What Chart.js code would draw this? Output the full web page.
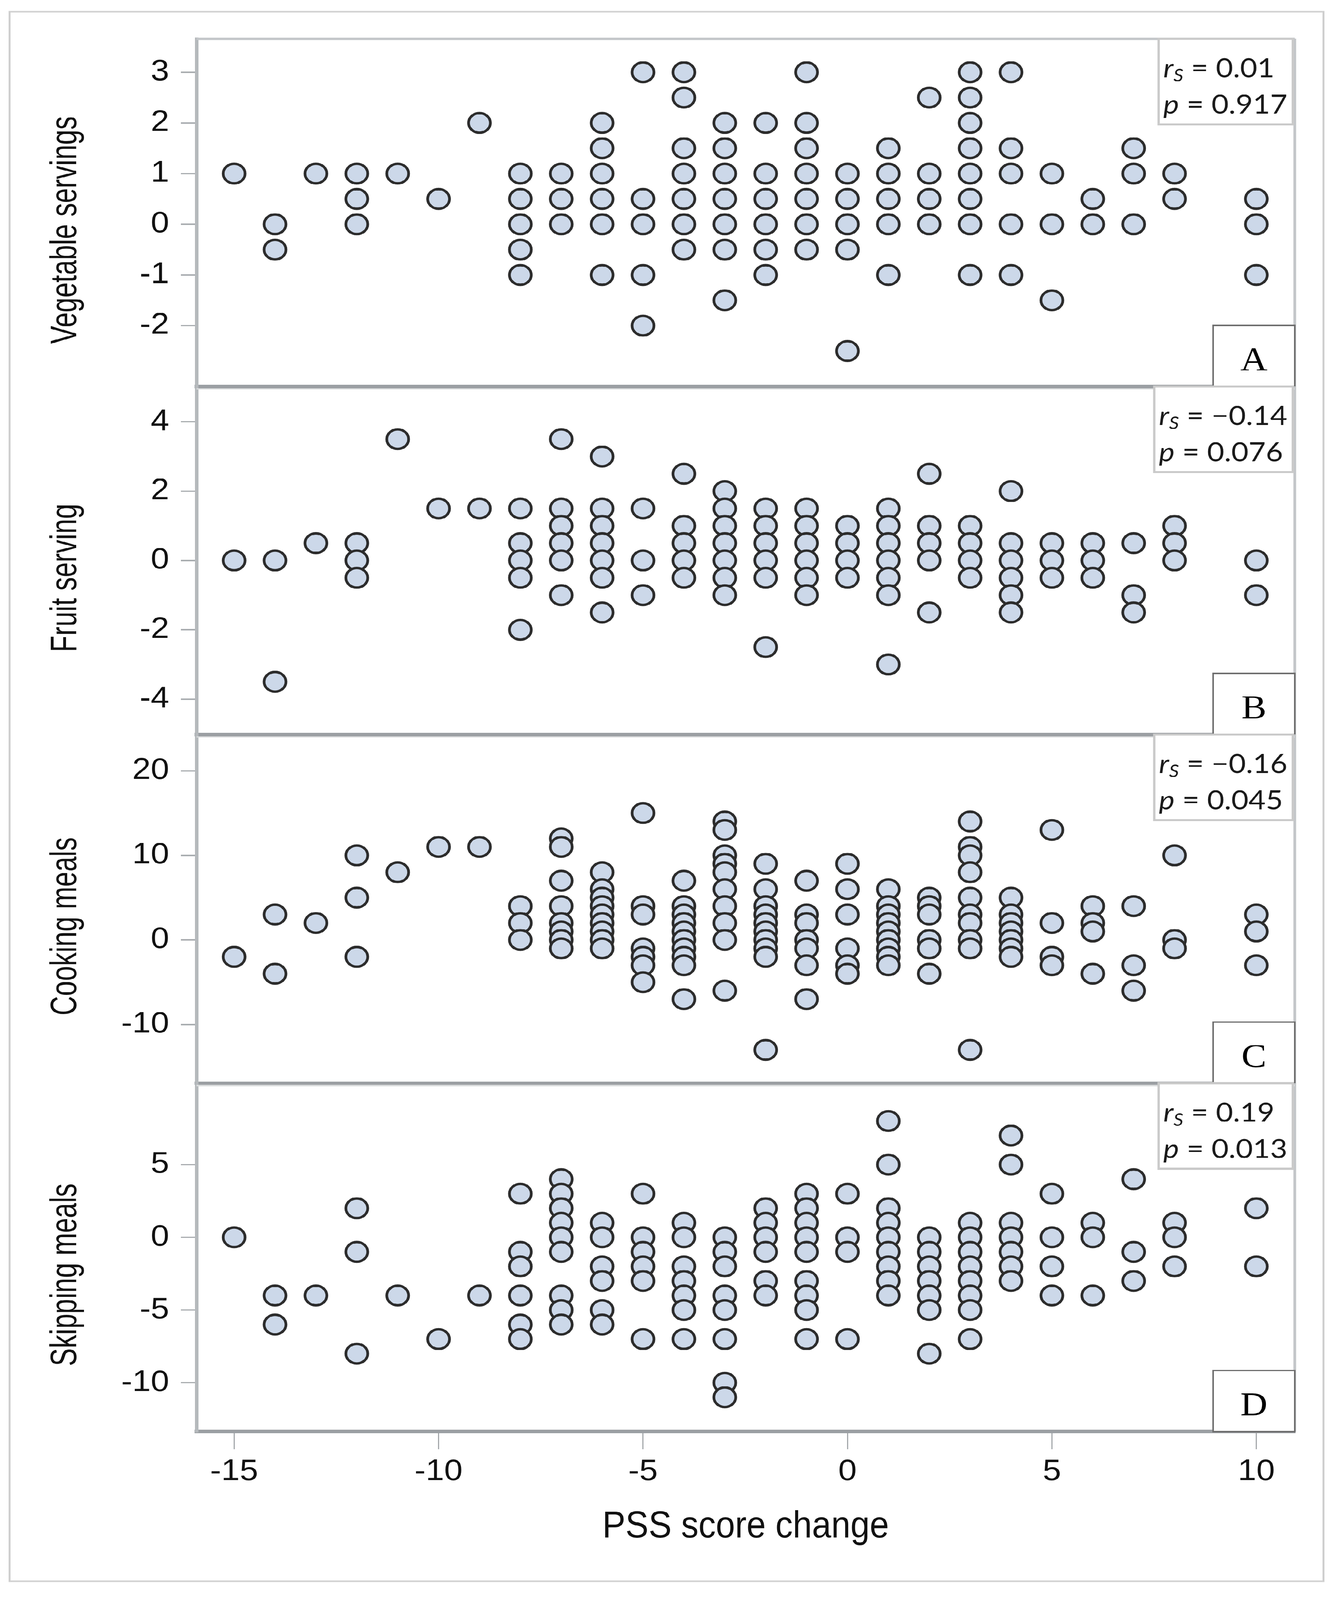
<!DOCTYPE html>
<html>
<head>
<meta charset="utf-8">
<script src="https://cdn.jsdelivr.net/npm/chart.js@4.4.1/dist/chart.umd.min.js"></script>
<style>
  html, body { margin: 0; padding: 0; background: #ffffff; overflow: hidden; }
  #stage { position: absolute; left: 0; top: 0; width: 3440px; height: 4579px; transform-origin: 0 0; background: #ffffff; }
  #frame { position: absolute; left: 22px; top: 31px; width: 3368px; height: 4497px;
           border: 5px solid #cfcfcf; box-sizing: border-box; }
  .panel { position: absolute; left: 0; width: 3440px; }
  .panel canvas { display: block; }
</style>
</head>
<body>
<div id="stage">
  <div id="frame"></div>
  <div class="panel" id="pA"><canvas id="cA"></canvas></div>
  <div class="panel" id="pB"><canvas id="cB"></canvas></div>
  <div class="panel" id="pC"><canvas id="cC"></canvas></div>
  <div class="panel" id="pD"><canvas id="cD"></canvas></div>
</div>
<script>
// ---------------- DATA ----------------
// PSS score change (x) columns
const pssScores = [-15, -14, -13, -12, -11, -10, -9, -8, -7, -6, -5, -4, -3, -2, -1, 0, 1, 2, 3, 4, 5, 6, 7, 8, 10];

// Panel A: vegetable servings change, one list per PSS score column
const vegetableServings = [
  [1], [0, -0.5], [1], [1, 0.5, 0], [1], [0.5], [2],
  [1, 0.5, 0, -0.5, -1],
  [1, 0.5, 0],
  [2, 1.5, 1, 0.5, 0, -1],
  [3, 0.5, 0, -1, -2],
  [3, 2.5, 1.5, 1, 0.5, 0, -0.5],
  [2, 1.5, 1, 0.5, 0, -0.5, -1.5],
  [2, 1, 0.5, 0, -0.5, -1],
  [3, 2, 1.5, 1, 0.5, 0, -0.5],
  [1, 0.5, 0, -0.5, -2.5],
  [1.5, 1, 0.5, 0, -1],
  [2.5, 1, 0.5, 0],
  [3, 2.5, 2, 1.5, 1, 0.5, 0, -1],
  [3, 1.5, 1, 0, -1],
  [1, 0, -1.5],
  [0.5, 0],
  [1.5, 1, 0],
  [1, 0.5],
  [0.5, 0, -1]
];

// Panel B: fruit serving change
const fruitServings = [
  [0], [0, -3.5], [0.5], [0.5, 0, -0.5], [3.5], [1.5], [1.5],
  [1.5, 0.5, 0, -0.5, -2],
  [3.5, 1.5, 1, 0.5, 0, -1],
  [3, 1.5, 1, 0.5, 0, -0.5, -1.5],
  [1.5, 0, -1],
  [2.5, 1, 0.5, 0, -0.5],
  [2, 1.5, 1, 0.5, 0, -0.5, -1],
  [1.5, 1, 0.5, 0, -0.5, -2.5],
  [1.5, 1, 0.5, 0, -0.5, -1],
  [1, 0.5, 0, -0.5],
  [1.5, 1, 0.5, 0, -0.5, -1, -3],
  [2.5, 1, 0.5, 0, -1.5],
  [1, 0.5, 0, -0.5],
  [2, 0.5, 0, -0.5, -1, -1.5],
  [0.5, 0, -0.5],
  [0.5, 0, -0.5],
  [0.5, -1, -1.5],
  [1, 0.5, 0],
  [0, -1]
];

// Panel C: cooking meals change
const cookingMeals = [
  [-2], [3, -4], [2], [10, 5, -2], [8], [11], [11],
  [4, 2, 0],
  [12, 11, 7, 4, 2, 1, 0, -1],
  [8, 6, 5, 4, 3, 2, 1, 0, -1],
  [15, 4, 3, -1, -2, -3, -5],
  [7, 4, 3, 2, 1, 0, -1, -2, -3, -7],
  [14, 13, 10, 9, 8, 6, 4, 2, 0, -6],
  [9, 6, 4, 3, 2, 1, 0, -1, -2, -13],
  [7, 3, 2, 0, -1, -3, -7],
  [9, 6, 3, -1, -3, -4],
  [6, 4, 3, 2, 1, 0, -1, -2, -3],
  [5, 4, 3, 0, -1, -4],
  [14, 11, 10, 8, 5, 3, 2, 0, -1, -13],
  [5, 3, 2, 1, 0, -1, -2],
  [13, 2, -2, -3],
  [4, 2, 1, -4],
  [4, -3, -6],
  [10, 0, -1],
  [3, 1, -3]
];

// Panel D: skipping meals change
const skippingMeals = [
  [0], [-4, -6], [-4], [2, -1, -8], [-4], [-7], [-4],
  [3, -1, -2, -4, -6, -7],
  [4, 3, 2, 1, 0, -1, -4, -5, -6],
  [1, 0, -2, -3, -5, -6],
  [3, 0, -1, -2, -3, -7],
  [1, 0, -2, -3, -4, -5, -7],
  [0, -1, -2, -4, -5, -7, -10, -11],
  [2, 1, 0, -1, -3, -4],
  [3, 2, 1, 0, -1, -3, -4, -5, -7],
  [3, 0, -1, -7],
  [8, 5, 2, 1, 0, -1, -2, -3, -4],
  [0, -1, -2, -3, -4, -5, -8],
  [1, 0, -1, -2, -3, -4, -5, -7],
  [7, 5, 1, 0, -1, -2, -3],
  [3, 0, -2, -4],
  [1, 0, -4],
  [4, -1, -3],
  [1, 0, -2],
  [2, -2]
];

const panelTitles = ['Vegetable servings', 'Fruit serving', 'Cooking meals', 'Skipping meals'];
const xAxisTitle = 'PSS score change';
const panelLetters = ['A', 'B', 'C', 'D'];
const spearmanR = ['0.01', '\u22120.14', '\u22120.16', '0.19'];
const pValues = ['0.917', '0.076', '0.045', '0.013'];

const xTicks = [-15, -10, -5, 0, 5, 10];
const xRange = [-15.92, 10.94];
const yTicksA = [-2, -1, 0, 1, 2, 3];
const yTicksB = [-4, -2, 0, 2, 4];
const yTicksC = [-10, 0, 10, 20];
const yTicksD = [-10, -5, 0, 5];
const yRangeA = [-3.2, 3.66];
const yRangeB = [-5.02, 5.02];
const yRangeC = [-16.94, 24.29];
const yRangeD = [-13.36, 10.6];

// ---------------- LAYOUT ----------------
const PAGE_W = 3440, PAGE_H = 4579;
const PLOT_LEFT = 503, PLOT_RIGHT = 3314;
const panelTop = [111, 1106, 2102, 3100];
const panelBottom = [1106, 2102, 3100, 4097];
const MARGIN = 60;

// fit the 3440x4579 design into the actual viewport
(function fitStage() {
  const sx = Math.min(1, (window.innerWidth || PAGE_W) / PAGE_W);
  const sy = Math.min(1, (window.innerHeight || PAGE_H) / PAGE_H);
  document.getElementById('stage').style.transform = 'scale(' + sx + ',' + sy + ')';
})();

const TICK_FONT = "'Liberation Sans', Arial, sans-serif";
const STAT_FONT = "Lato, 'Open Sans', sans-serif";
const LETTER_FONT = "'Liberation Serif', 'Times New Roman', serif";
const NARROW = 0.82;

function drawNarrowText(ctx, text, x, y, size, rotate) {
  ctx.save();
  ctx.translate(x, y);
  if (rotate) ctx.rotate(-Math.PI / 2);
  ctx.scale(NARROW, 1);
  ctx.font = size + 'px ' + TICK_FONT;
  ctx.fillStyle = '#111111';
  ctx.textAlign = 'center';
  ctx.textBaseline = 'alphabetic';
  ctx.fillText(text, 0, 0);
  ctx.restore();
}

const decoPlugin = {
  id: 'panelDeco',
  afterDraw(chart, args, opts) {
    const ctx = chart.ctx;
    const a = chart.chartArea;
    const i = opts.index;
    ctx.save();

    // frame: top (first panel) and right side
    ctx.strokeStyle = '#c3c6c9';
    ctx.lineWidth = 7;
    ctx.beginPath();
    if (i === 0) { ctx.moveTo(a.left, a.top); ctx.lineTo(a.right, a.top); }
    ctx.moveTo(a.right, a.top);
    ctx.lineTo(a.right, a.bottom);
    ctx.stroke();
    if (i > 0) {
      ctx.strokeStyle = '#dadcdd';
      ctx.lineWidth = 4;
      ctx.beginPath();
      ctx.moveTo(a.left, a.top + 7);
      ctx.lineTo(a.right, a.top + 7);
      ctx.stroke();
    }

    // statistics inset (top right)
    const mainSize = 76, subSize = 50;
    const fItal = 'italic ' + mainSize + 'px ' + STAT_FONT;
    const fSub = 'italic ' + subSize + 'px ' + STAT_FONT;
    const fNorm = mainSize + 'px ' + STAT_FONT;
    const line1b = ' = ' + spearmanR[i];
    const line2b = ' = ' + pValues[i];
    ctx.font = fItal; const wr = ctx.measureText('r').width; const wp = ctx.measureText('p').width;
    ctx.font = fSub; const ws = ctx.measureText('S').width;
    ctx.font = fNorm; const w1 = ctx.measureText(line1b).width; const w2 = ctx.measureText(line2b).width;
    const textW = Math.max(wr + ws + w1, wp + w2);
    const boxR = a.right - 5, boxT = a.top, boxH = 245;
    const boxL = boxR - textW - 26;
    ctx.fillStyle = '#ffffff';
    ctx.fillRect(boxL, boxT, boxR - boxL, boxH);
    ctx.strokeStyle = '#cacaca';
    ctx.lineWidth = 6;
    ctx.strokeRect(boxL, boxT, boxR - boxL, boxH);
    ctx.fillStyle = '#1a1a1a';
    ctx.textAlign = 'left';
    ctx.textBaseline = 'alphabetic';
    let tx = boxL + 12;
    const b1 = boxT + 110, b2 = boxT + 214;
    ctx.font = fItal; ctx.fillText('r', tx, b1); tx += wr;
    ctx.font = fSub; ctx.fillText('S', tx, b1 + 12); tx += ws;
    ctx.font = fNorm; ctx.fillText(line1b, tx, b1);
    tx = boxL + 12;
    ctx.font = fItal; ctx.fillText('p', tx, b2); tx += wp;
    ctx.font = fNorm; ctx.fillText(line2b, tx, b2);

    // panel letter (bottom right)
    const lw = 209, lh = 175;
    ctx.fillStyle = '#ffffff';
    ctx.fillRect(a.right - lw, a.bottom - lh, lw, lh);
    ctx.strokeStyle = '#6e6e6e';
    ctx.lineWidth = 4;
    ctx.strokeRect(a.right - lw, a.bottom - lh, lw, lh);
    ctx.fillStyle = '#000000';
    ctx.font = '96px ' + LETTER_FONT;
    ctx.textAlign = 'center';
    ctx.fillText(panelLetters[i], a.right - lw / 2, a.bottom - 46);

    // axis titles
    drawNarrowText(ctx, panelTitles[i], 195, (a.top + a.bottom) / 2 + 50, 94, true);
    if (i === 3) {
      drawNarrowText(ctx, xAxisTitle, (a.left + a.right) / 2, a.bottom + 303, 108, false);
    }
    ctx.restore();
  }
};

function buildPoints(columns) {
  const pts = [];
  pssScores.forEach((x, k) => columns[k].forEach(y => pts.push({ x: x, y: y })));
  return pts;
}

function makePanel(i, canvasId, divId, columns, yRange, yTicks) {
  const isBottom = i === 3;
  const top = panelTop[i] - MARGIN;
  const height = isBottom ? PAGE_H - top : (panelBottom[i] - panelTop[i]) + 2 * MARGIN;
  const div = document.getElementById(divId);
  div.style.top = top + 'px';
  div.style.height = height + 'px';
  const xAxisH = isBottom ? height - MARGIN - (panelBottom[i] - panelTop[i]) : 0;

  new Chart(document.getElementById(canvasId), {
    type: 'scatter',
    data: {
      datasets: [{
        data: buildPoints(columns),
        pointRadius: 28,
        pointHoverRadius: 28,
        pointBorderWidth: 7,
        pointBackgroundColor: '#ccd8e9',
        pointBorderColor: '#2c2c2c'
      }]
    },
    options: {
      responsive: true,
      maintainAspectRatio: false,
      devicePixelRatio: 1,
      animation: false,
      events: [],
      layout: { padding: { left: 0, right: PAGE_W - PLOT_RIGHT, top: MARGIN, bottom: isBottom ? 0 : MARGIN } },
      plugins: {
        legend: { display: false },
        tooltip: { enabled: false },
        panelDeco: { index: i }
      },
      scales: {
        x: {
          type: 'linear',
          position: 'bottom',
          min: xRange[0],
          max: xRange[1],
          afterBuildTicks: s => { s.ticks = xTicks.map(v => ({ value: v })); },
          afterFit: s => { s.height = xAxisH; s.paddingLeft = 0; s.paddingRight = 0; },
          border: { display: true, color: '#9b9fa3', width: 10 },
          grid: { display: isBottom, drawOnChartArea: false, drawTicks: isBottom, tickLength: 50, color: '#a5a9ac', lineWidth: 3 },
          ticks: { display: isBottom, padding: 15, color: '#111111', font: { family: TICK_FONT, size: 85 } },
          title: { display: false }
        },
        y: {
          type: 'linear',
          position: 'left',
          min: yRange[0],
          max: yRange[1],
          afterBuildTicks: s => { s.ticks = yTicks.map(v => ({ value: v })); },
          afterFit: s => { s.width = PLOT_LEFT; s.paddingTop = 0; s.paddingBottom = 0; },
          border: { display: true, color: '#b5b9bc', width: 9 },
          grid: { drawOnChartArea: false, drawTicks: true, tickLength: 40, color: '#a9adb0', lineWidth: 4 },
          ticks: { padding: 30, color: '#111111', font: { family: TICK_FONT, size: 85 } }
        }
      }
    },
    plugins: [decoPlugin]
  });
}

makePanel(0, 'cA', 'pA', vegetableServings, yRangeA, yTicksA);
makePanel(1, 'cB', 'pB', fruitServings, yRangeB, yTicksB);
makePanel(2, 'cC', 'pC', cookingMeals, yRangeC, yTicksC);
makePanel(3, 'cD', 'pD', skippingMeals, yRangeD, yTicksD);
</script>
</body>
</html>
